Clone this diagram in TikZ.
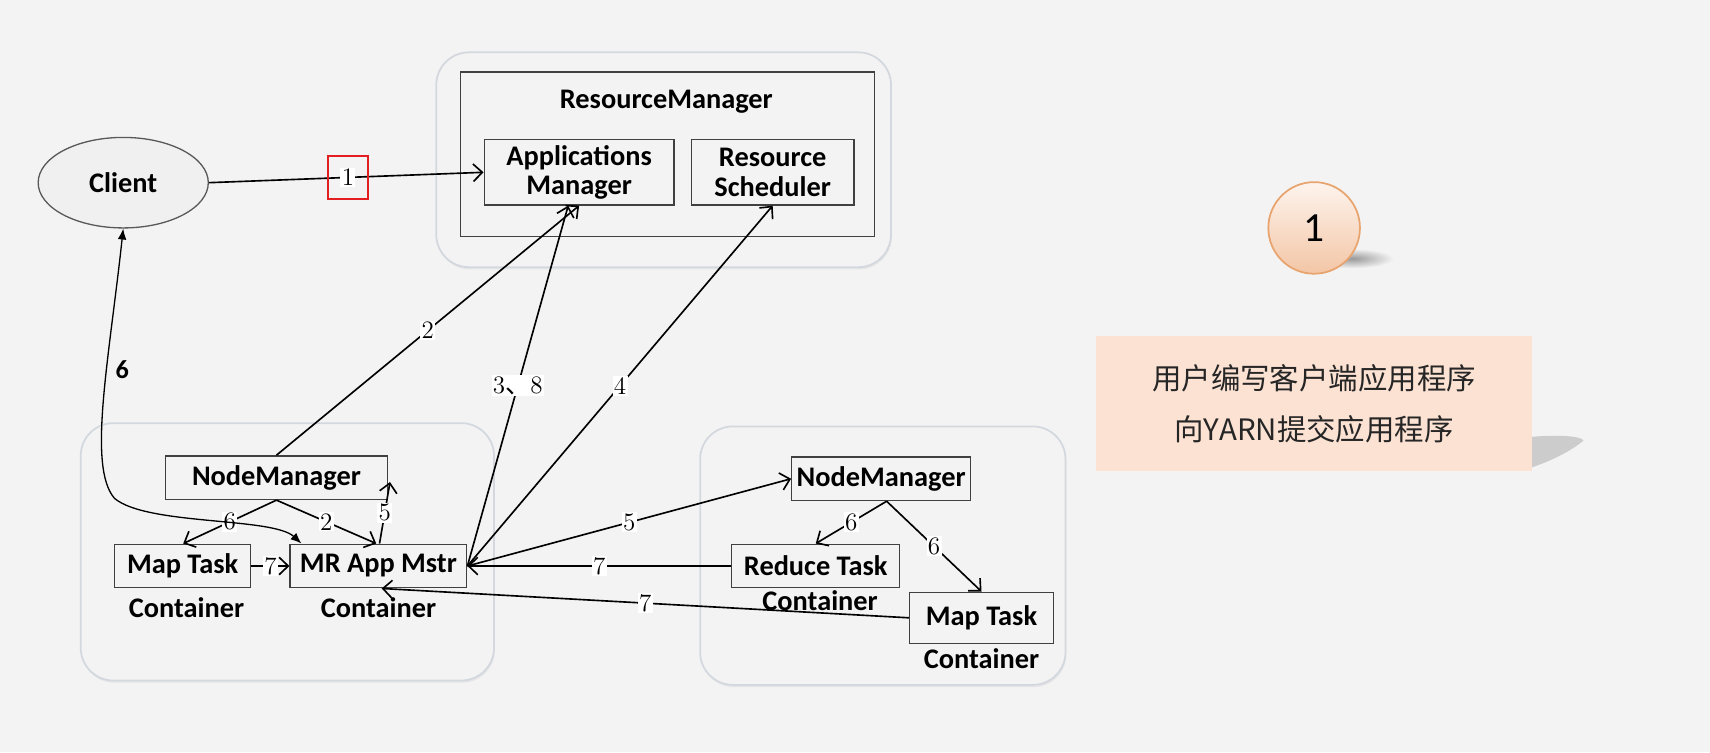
\documentclass[tikz,border=0pt]{standalone}
\usepackage{fontspec}
\newfontfamily\calib{Carlito}
\newfontfamily\cjk{Noto Sans CJK SC}
\usetikzlibrary{arrows.meta,shapes.geometric,calc,shadows}
\definecolor{bg}{HTML}{F3F3F3}
\definecolor{cbord}{HTML}{D3D8DE}
\definecolor{peach}{HTML}{FCE2D3}
\definecolor{orng}{HTML}{E8A46E}
\definecolor{redb}{HTML}{E41E20}
\begin{document}
\begin{tikzpicture}[x=0.5pt,y=-0.5pt,
 box/.style={draw=black!75, fill=bg, line width=0.6pt, inner sep=0pt, font=\calib\bfseries\fontsize{13}{13.5}\selectfont, align=center},
 cont/.style={draw=cbord, line width=0.8pt, rounded corners=15pt, fill=bg, inner sep=0pt, drop shadow={opacity=0.12, shadow xshift=0.4pt, shadow yshift=-1pt}},
 lbl/.style={font=\fontsize{11.5}{11.5}\selectfont, fill=white, inner sep=0.6pt},
 arr/.style={-{Straight Barb[length=4.2pt,width=8pt]}, line width=0.75pt, black},
 txt/.style={font=\calib\bfseries\fontsize{13}{13}\selectfont, inner sep=0pt}
]
\fill[bg] (0,0) rectangle (1568,690);
\useasboundingbox (0,0) rectangle (1568,690);

% ResourceManager
\node[cont, minimum width=208.5pt, minimum height=98.5pt] (rmo) at (608.5,146.5) {};
\node[draw=black!75, line width=0.6pt, minimum width=190pt, minimum height=75.5pt, inner sep=0pt] (rm) at (612,141.5) {};
\node[txt] (rmt) at (611,93) {ResourceManager};
\node[box, minimum width=87pt, minimum height=30pt] (am) at (531,158) {Applications\\Manager};
\node[box, minimum width=74.5pt, minimum height=30pt] (rs) at (708.5,158) {Resource\\Scheduler};

% Client
\node[ellipse, draw=black!65, fill=black!6, line width=0.6pt, minimum width=78pt, minimum height=41.5pt, txt] (client) at (113,167.5) {Client};

% left node
\node[cont, minimum width=189.5pt, minimum height=118pt] (lo) at (263.5,506) {};
\node[box, minimum width=101.5pt, minimum height=20pt] (nm1) at (253.5,438) {NodeManager};
\node[box, minimum width=62.5pt, minimum height=20pt] (mt1) at (167.5,519) {Map Task};
\node[box, minimum width=81pt, minimum height=20pt] (mr) at (347,519) {MR App Mstr};
\node[txt] (c1) at (171,557) {Container};
\node[txt] (c2) at (347,557) {Container};

% right node
\node[cont, minimum width=167.5pt, minimum height=118.5pt] (ro) at (809.5,509.5) {};
\node[box, minimum width=82pt, minimum height=20pt] (nm2) at (808,439) {NodeManager};
\node[box, minimum width=77pt, minimum height=20pt] (rt) at (748,519) {Reduce Task};
\node[box, minimum width=66pt, minimum height=23.5pt] (mt2) at (900,566.5) {Map Task};
\node[txt] (c3) at (752,551) {Container};
\node[txt] (c4) at (900,604) {Container};

% connectors
\draw[arr] (client.east) -- (am.west) node[pos=0.506, lbl] (l1) {1};
\node[draw=redb, line width=1pt, minimum width=18.5pt, minimum height=20pt] (rb) at (l1) {};
\draw[arr] (nm1.north) -- (am.south) node[pos=0.5,lbl]{2};
\draw[arr] (mr.east) -- ($(am.south)+(-10,0)$) node[pos=0.5,lbl]{3{\cjk 、}8};
\draw[arr] (mr.east) -- (rs.south) node[pos=0.5,lbl]{4};
\draw[arr] (mr.east) -- (nm2.west) node[pos=0.5,lbl]{5};
\draw[arr] (rt.west) -- (mr.east) node[pos=0.5,lbl]{7};
\draw[arr] (mt2.west) -- ($(mr.south)+(3,0)$) node[pos=0.5,lbl]{7};
\draw[arr] ($(nm2.south)+(5,0)$) -- (rt.north) node[pos=0.5,lbl]{6};
\draw[arr] ($(nm2.south)+(5,0)$) -- (mt2.north) node[pos=0.5,lbl]{6};
\draw[arr] (nm1.south) -- ($(mt1.north)+(0.5,0)$) node[pos=0.5,lbl]{6};
\draw[arr] (nm1.south) -- ($(mr.north)+(-2,0)$) node[pos=0.5,lbl]{2};
\draw[arr] ($(mr.north)+(1,0)$) -- ($(nm1.east)+(2,4)$) node[pos=0.5,lbl]{5};
\draw[arr] (mt1.east) -- (mr.west) node[pos=0.5,lbl]{7};
\draw[{Latex[length=5pt,width=4pt]}-{Latex[length=5pt,width=4pt]}, line width=0.6pt]
  (client.south) .. controls (100,330) and (80,428) .. (105,457)
  .. controls (135,482) and (250,474) .. ($(mr.north west)+(11,0)$);
\node[font=\calib\bfseries\fontsize{12}{12}\selectfont, inner sep=0pt] (l6) at (112,339) {6};

% step marker
\shade[inner color=black!40, outer color=bg] (1240,237) ellipse [x radius=38, y radius=9];
\node[circle, minimum size=42pt, draw=orng, line width=0.8pt, top color=white!60!peach, bottom color=orng!45!peach, font=\calib\fontsize{19}{19}\selectfont, inner sep=0pt] (circ) at (1205,209) {1};

% note
\fill[black!30, opacity=0.6] (1400,401) .. controls (1430,398) and (1450,400) .. (1452,404) .. controls (1440,414) and (1420,424) .. (1400,430) -- cycle;
\node[fill=peach, minimum width=200pt, minimum height=62pt, font=\cjk\fontsize{13.5}{23.5}\selectfont, text=black!85, align=center] (note) at (1205,370) {用户编写客户端应用程序\\向YARN提交应用程序};
\end{tikzpicture}
\end{document}
